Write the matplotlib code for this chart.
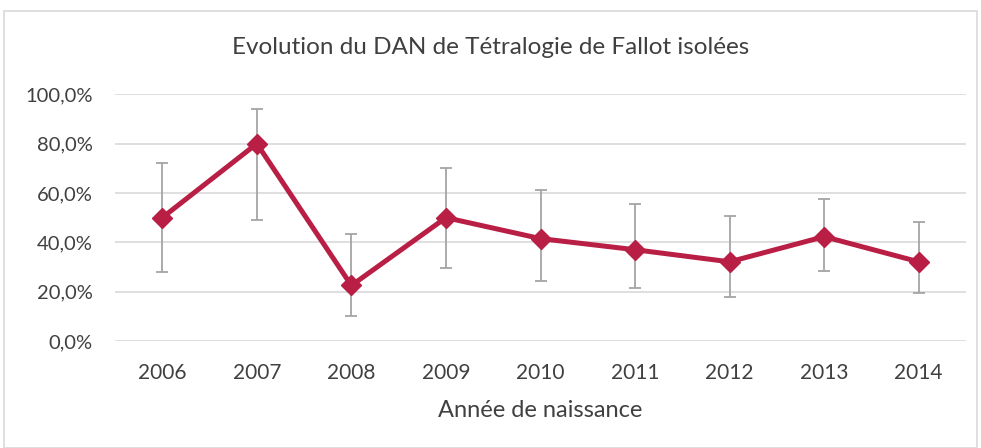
import numpy as np
from matplotlib import pyplot as plt
from matplotlib.patches import Rectangle
from matplotlib.ticker import FuncFormatter

years = ['2006', '2007', '2008', '2009', '2010', '2011', '2012', '2013', '2014']
taux = [50.0, 80.0, 22.5, 50.0, 41.5, 37.0, 32.1, 42.3, 32.1]
ic_haut = [72.0, 94.2, 43.4, 70.0, 61.1, 55.6, 50.5, 57.7, 48.4]
ic_bas = [27.8, 48.9, 10.0, 29.7, 24.3, 21.4, 17.7, 28.3, 19.6]

plt.rcParams['font.family'] = ['Lato', 'DejaVu Sans']

fig = plt.figure(figsize=(9.81, 4.48), dpi=100)
ax = fig.add_axes([115/981, 1-341/448, 851/981, (341-94.3)/448])

# cadre du graphique
fig.patches.append(Rectangle((4/981, 0), 973/981, 1-11/448, transform=fig.transFigure,
                             fill=False, edgecolor='#D9D9D9', linewidth=1.2))

x = np.arange(len(years))
t = np.array(taux)
err = [t - np.array(ic_bas), np.array(ic_haut) - t]

ax.errorbar(x, t, yerr=err, fmt='none', ecolor='#A5A5A5', elinewidth=1.3,
            capsize=4, capthick=1.3, zorder=2)
ax.plot(x, t, color='#B91F44', linewidth=3.6, marker='D', markersize=10, zorder=3)

ax.set_xlim(-0.5, len(years) - 0.5)
ax.set_ylim(0, 100)
ax.set_yticks(range(0, 101, 20))
ax.yaxis.set_major_formatter(FuncFormatter(lambda v, p: f'{v:.1f}%'.replace('.', ',')))
ax.set_xticks(x)
ax.set_xticklabels(years)
ax.grid(axis='y', color='#D9D9D9', linewidth=1.2)
ax.set_axisbelow(True)
for s in ax.spines.values():
    s.set_visible(False)
ax.tick_params(axis='x', length=0, labelsize=15, colors='#404040', pad=16)
ax.tick_params(axis='y', length=0, labelsize=14.5, colors='#404040', pad=16)

ax.set_xlabel('Année de naissance', fontsize=17, color='#404040', labelpad=12)
fig.text(0.5, 1-48/448, 'Evolution du DAN de Tétralogie de Fallot isolées',
         ha='center', va='center', fontsize=17.5, color='#404040')

plt.savefig('out.png', dpi=100)
